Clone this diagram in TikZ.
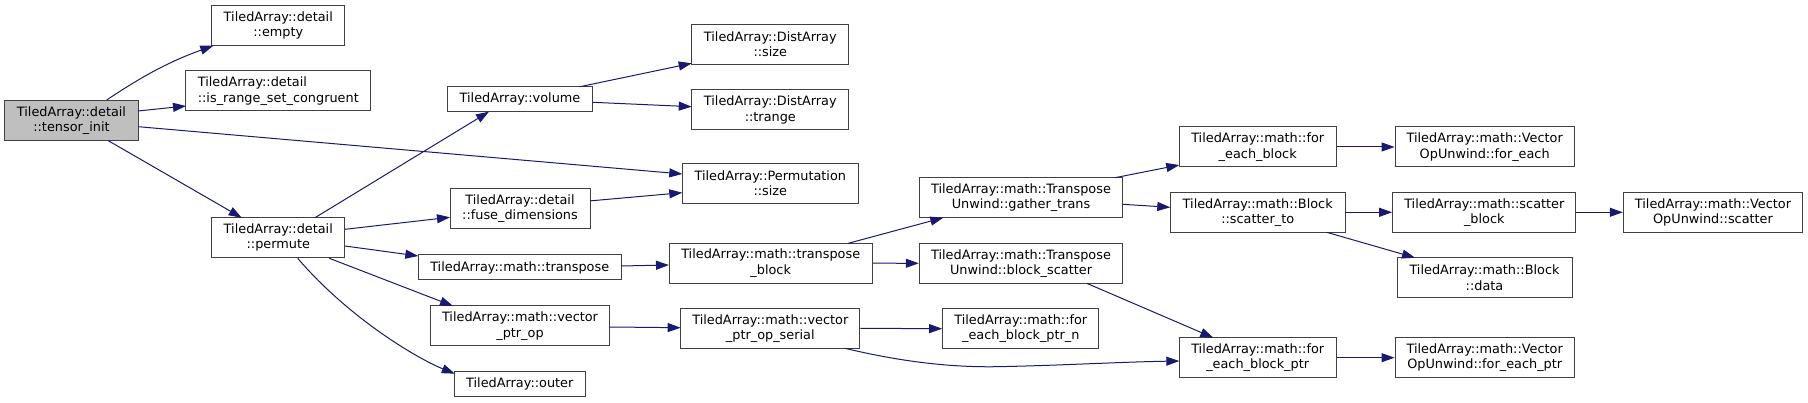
\documentclass[tikz,border=0pt]{standalone}
\usepackage{fontspec}
\setmainfont{DejaVu Sans}
\usetikzlibrary{arrows.meta}
\definecolor{edgeblue}{RGB}{25,25,112}
\definecolor{boxborder}{RGB}{64,64,64}
\definecolor{rootfill}{RGB}{191,191,191}
\begin{document}
\begin{tikzpicture}[x=1pt,y=-1pt,
  fn/.style={draw=boxborder, line width=1pt, fill=white, inner sep=0pt, align=center,
    font=\fontsize{12.85}{15.3}\selectfont},
  root/.style={fn, fill=rootfill},
  call/.style={draw=edgeblue, line width=1pt, -{Triangle[length=13pt,width=9pt]}}]
\useasboundingbox (0,0) rectangle (1808,403);
% nodes
\node[root, minimum width=133.3pt, minimum height=40pt] (ti) at (71.5,120.5) {TiledArray::detail\\::tensor\_init};
\node[fn, minimum width=133.3pt, minimum height=40pt] (empty) at (278.3,25.7) {TiledArray::detail\\::empty};
\node[fn, minimum width=184.7pt, minimum height=40pt, align=left] (irsc) at (278.3,91) {TiledArray::detail\\::is\_range\_set\_congruent};
\node[fn, minimum width=133.3pt, minimum height=40pt] (permute) at (278.3,237.7) {TiledArray::detail\\::permute};
\node[fn, minimum width=145.3pt, minimum height=25pt] (volume) at (520,99.2) {TiledArray::volume};
\node[fn, minimum width=157.3pt, minimum height=40pt] (dsize) at (770.3,44.5) {TiledArray::DistArray\\::size};
\node[fn, minimum width=157.3pt, minimum height=40pt] (dtrange) at (770.3,110) {TiledArray::DistArray\\::trange};
\node[fn, minimum width=176pt, minimum height=40pt] (psize) at (770.3,183.3) {TiledArray::Permutation\\::size};
\node[fn, minimum width=140pt, minimum height=40pt] (fuse) at (520,208.3) {TiledArray::detail\\::fuse\_dimensions};
\node[fn, minimum width=202.7pt, minimum height=25pt] (transpose) at (519.7,267.5) {TiledArray::math::transpose};
\node[fn, minimum width=203.3pt, minimum height=40pt] (tblock) at (770.7,263.2) {TiledArray::math::transpose\\\_block};
\node[fn, minimum width=178.6pt, minimum height=40pt] (vpo) at (520,326) {TiledArray::math::vector\\\_ptr\_op};
\node[fn, minimum width=179.3pt, minimum height=40pt] (vpos) at (770.3,328.3) {TiledArray::math::vector\\\_ptr\_op\_serial};
\node[fn, minimum width=131pt, minimum height=25pt] (outer) at (519.8,384.2) {TiledArray::outer};
\node[fn, minimum width=203.4pt, minimum height=40pt] (gather) at (1021,197.7) {TiledArray::math::Transpose\\Unwind::gather\_trans};
\node[fn, minimum width=203.4pt, minimum height=40pt] (bscatter) at (1021,263.3) {TiledArray::math::Transpose\\Unwind::block\_scatter};
\node[fn, minimum width=156.3pt, minimum height=40pt] (febpn) at (1020.8,328.7) {TiledArray::math::for\\\_each\_block\_ptr\_n};
\node[fn, minimum width=156.7pt, minimum height=40pt] (feb) at (1257.7,147) {TiledArray::math::for\\\_each\_block};
\node[fn, minimum width=174.7pt, minimum height=40pt] (scatto) at (1257.7,212.3) {TiledArray::math::Block\\::scatter\_to};
\node[fn, minimum width=156.7pt, minimum height=40pt] (febp) at (1257.7,357.7) {TiledArray::math::for\\\_each\_block\_ptr};
\node[fn, minimum width=179.3pt, minimum height=40pt] (vfe) at (1484.7,147) {TiledArray::math::Vector\\OpUnwind::for\_each};
\node[fn, minimum width=183.3pt, minimum height=40pt] (sblock) at (1484.3,212.3) {TiledArray::math::scatter\\\_block};
\node[fn, minimum width=179.4pt, minimum height=40pt] (vscat) at (1713,212.3) {TiledArray::math::Vector\\OpUnwind::scatter};
\node[fn, minimum width=175pt, minimum height=40pt] (bdata) at (1484.5,277.7) {TiledArray::math::Block\\::data};
\node[fn, minimum width=179.3pt, minimum height=40pt] (vfep) at (1484.7,357.7) {TiledArray::math::Vector\\OpUnwind::for\_each\_ptr};
% edges
\draw[call] ([xshift=35.2pt,yshift=20.5pt]ti.center) .. controls (146.7,73.2) and (173.3,60.1) .. ([xshift=-65pt,yshift=-20pt]empty.center);
\draw[call] ([xshift=66.5pt,yshift=9.5pt]ti.center) -- ([xshift=-92.3pt,yshift=-15pt]irsc.center);
\draw[call] ([xshift=66.8pt,yshift=-6.2pt]ti.center) -- ([xshift=-88pt,yshift=9.3pt]psize.center);
\draw[call] ([xshift=36.8pt,yshift=-20.2pt]ti.center) -- ([xshift=-36.6pt,yshift=20pt]permute.center);
\draw[call] ([xshift=36.7pt,yshift=20pt]permute.center) -- ([xshift=-31pt,yshift=-12.5pt]volume.center);
\draw[call] ([xshift=66.7pt,yshift=8.4pt]permute.center) -- ([xshift=-70pt,yshift=-9pt]fuse.center);
\draw[call] ([xshift=66.7pt,yshift=-8.3pt]permute.center) -- ([xshift=-101.4pt,yshift=11.5pt]transpose.center);
\draw[call] ([xshift=51pt,yshift=-20.6pt]permute.center) -- ([xshift=-67pt,yshift=20pt]vpo.center);
\draw[call] ([xshift=19.4pt,yshift=-20.6pt]permute.center) .. controls (349.7,319) and (418,358.8) .. ([xshift=-65pt,yshift=10.5pt]outer.center);
\draw[call] ([xshift=60pt,yshift=12.5pt]volume.center) -- ([xshift=-78.6pt,yshift=-18.8pt]dsize.center);
\draw[call] ([xshift=72.7pt,yshift=-3.1pt]volume.center) -- ([xshift=-78.6pt,yshift=3.3pt]dtrange.center);
\draw[call] ([xshift=70pt,yshift=7.4pt]fuse.center) -- ([xshift=-88pt,yshift=-9.4pt]psize.center);
\draw[call] ([xshift=101.3pt,yshift=1.5pt]transpose.center) -- ([xshift=-101.7pt,yshift=-1.8pt]tblock.center);
\draw[call] ([xshift=89.3pt,yshift=-1pt]vpo.center) -- ([xshift=-89.6pt,yshift=0.6pt]vpos.center);
\draw[call] ([xshift=77.6pt,yshift=19.9pt]tblock.center) -- ([xshift=-77.7pt,yshift=-20pt]gather.center);
\draw[call] (tblock.east) -- (bscatter.west);
\draw[call] (vpos.east) -- (febpn.west);
\draw[call] ([xshift=74.7pt,yshift=-20pt]vpos.center) .. controls (900,361.5) and (950,367.5) .. (997,366.7) .. controls (1060,365.5) and (1120,362) .. ([xshift=-78.4pt,yshift=-3.3pt]febp.center);
\draw[call] ([xshift=94pt,yshift=20pt]gather.center) -- ([xshift=-78.4pt,yshift=-18pt]feb.center);
\draw[call] ([xshift=101.7pt,yshift=-6.6pt]gather.center) -- ([xshift=-87.4pt,yshift=5pt]scatto.center);
\draw[call] ([xshift=65.7pt,yshift=-20pt]bscatter.center) -- ([xshift=-44.4pt,yshift=20pt]febp.center);
\draw[call] (feb.east) -- (vfe.west);
\draw[call] (scatto.east) -- (sblock.west);
\draw[call] ([xshift=69pt,yshift=-20pt]scatto.center) -- ([xshift=-69.5pt,yshift=20pt]bdata.center);
\draw[call] (sblock.east) -- (vscat.west);
\draw[call] (febp.east) -- (vfep.west);
\end{tikzpicture}
\end{document}
